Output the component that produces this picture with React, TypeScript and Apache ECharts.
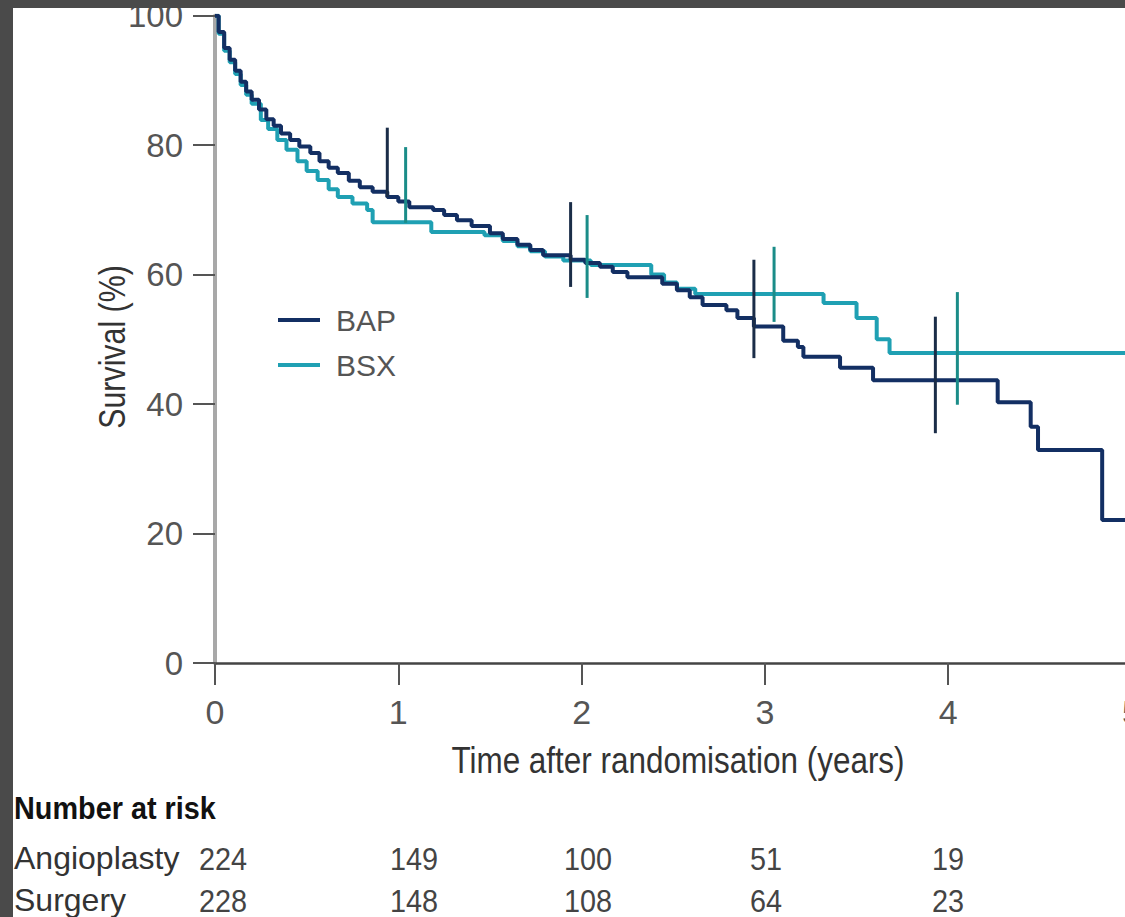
import React, { useEffect, useRef } from "react";
import * as echarts from "echarts";

// ---- data ----
const seriesNames = ["BAP", "BSX"];

const bapTimes = [0, 0.02, 0.05, 0.08, 0.11, 0.14, 0.17, 0.2, 0.24, 0.28, 0.32, 0.36, 0.41, 0.46, 0.52, 0.57, 0.62, 0.67, 0.73, 0.79, 0.86, 0.94, 1.0, 1.06, 1.19, 1.25, 1.32, 1.4, 1.5, 1.57, 1.65, 1.72, 1.79, 1.94, 2.02, 2.1, 2.17, 2.25, 2.44, 2.52, 2.59, 2.66, 2.79, 2.85, 2.94, 3.1, 3.18, 3.21, 3.41, 3.59, 4.27, 4.45, 4.49, 4.84, 5.0];
const bapSurv = [100, 97.5, 95.0, 93.2, 91.5, 89.8, 88.3, 87.0, 85.5, 84.0, 83.0, 81.8, 80.8, 79.8, 78.8, 77.5, 76.5, 75.7, 74.5, 73.5, 72.8, 72.0, 71.3, 70.4, 70.0, 69.2, 68.4, 67.5, 66.4, 65.5, 64.6, 63.8, 63.0, 62.3, 61.8, 61.2, 60.4, 59.6, 58.6, 57.6, 56.5, 55.3, 54.5, 53.3, 52.0, 49.8, 48.8, 47.3, 45.6, 43.7, 40.3, 36.5, 32.9, 22.1, 22.1];

const bsxTimes = [0, 0.02, 0.05, 0.08, 0.11, 0.14, 0.17, 0.2, 0.25, 0.29, 0.34, 0.39, 0.45, 0.5, 0.56, 0.62, 0.67, 0.75, 0.83, 0.86, 1.18, 1.47, 1.57, 1.65, 1.72, 1.8, 1.9, 2.05, 2.38, 2.45, 2.52, 2.62, 3.32, 3.5, 3.61, 3.68, 5.0];
const bsxSurv = [100, 97.2, 94.6, 92.8, 91.0, 89.3, 87.8, 86.4, 83.9, 82.5, 80.8, 79.3, 77.5, 76.0, 74.6, 73.2, 72.0, 71.0, 70.0, 68.1, 66.6, 66.1, 65.2, 64.4, 63.6, 62.8, 62.2, 61.5, 60.0, 58.8, 57.8, 57.0, 55.6, 53.3, 50.0, 47.9, 47.9];

// 95% CI bars (time, lower, upper)
const bapCiTimes = [0.94, 1.94, 2.94, 3.93];
const bapCiLow = [72.0, 58.1, 47.1, 35.5];
const bapCiHigh = [82.7, 71.2, 62.3, 53.5];
const bsxCiTimes = [1.04, 2.03, 3.05, 4.05];
const bsxCiLow = [68.0, 56.4, 52.7, 39.9];
const bsxCiHigh = [79.7, 69.2, 64.3, 57.3];

const yTicks = [0, 20, 40, 60, 80, 100];
const xTicks = [0, 1, 2, 3, 4, 5];

const xTitle = "Time after randomisation (years)";
const yTitle = "Survival (%)";
const riskTitle = "Number at risk";
const riskGroups = ["Angioplasty", "Surgery"];
const riskAngioplasty = [224, 149, 100, 51, 19];
const riskSurgery = [228, 148, 108, 64, 23];

// ---- layout (chart coordinates) ----
const riskColumnX = [210, 401, 575, 753, 935];
const riskRowY = [850, 892];

const BAP_COLOR = "#132f63";
const BSX_COLOR = "#1fa0b3";
const BAP_CI_COLOR = "#1b2d48";
const BSX_CI_COLOR = "#1a8c88";
const REG = "'Liberation Sans', Arial, sans-serif";

function zip(a: number[], b: number[]) {
  return a.map((t, i) => [t, b[i]]);
}

function ciSeries(name: string, times: number[], lo: number[], hi: number[], color: string) {
  return {
    type: "custom",
    name,
    z: 4,
    data: times.map((t, i) => [t, lo[i], hi[i]]),
    encode: { x: 0, y: [1, 2] },
    renderItem: (params: any, api: any) => {
      const p1 = api.coord([api.value(0), api.value(1)]);
      const p2 = api.coord([api.value(0), api.value(2)]);
      return {
        type: "line",
        shape: { x1: p1[0], y1: p1[1], x2: p2[0], y2: p2[1] },
        style: { stroke: color, lineWidth: 3 },
      };
    },
  };
}

export default function App() {
  const ref = useRef<HTMLDivElement>(null);
  useEffect(() => {
    if (!ref.current) return;
    const chart = echarts.init(ref.current, undefined, { renderer: "svg" });
    const graphics: any[] = [
      {
        type: "text",
        x: 665,
        y: 752,
        scaleX: 0.85,
        style: { text: xTitle, font: `37px ${REG}`, fill: "#333", textAlign: "center", textVerticalAlign: "middle" },
      },
      {
        type: "text",
        x: 99,
        y: 339,
        rotation: Math.PI / 2,
        scaleX: 0.82,
        style: { text: yTitle, font: `37px ${REG}`, fill: "#333", textAlign: "center", textVerticalAlign: "middle" },
      },
      {
        type: "text",
        x: 1,
        y: 800,
        scaleX: 0.93,
        style: { text: riskTitle, font: `bold 31px ${REG}`, fill: "#111", textVerticalAlign: "middle" },
      },
    ];
    const rows = [riskAngioplasty, riskSurgery];
    riskGroups.forEach((g, r) => {
      graphics.push({
        type: "text",
        x: 1,
        y: riskRowY[r],
        style: { text: g, font: `32px ${REG}`, fill: "#333", textVerticalAlign: "middle" },
      });
      rows[r].forEach((v, c) => {
        graphics.push({
          type: "text",
          x: riskColumnX[c],
          y: riskRowY[r],
          scaleX: 0.9,
          style: { text: String(v), font: `32px ${REG}`, fill: "#444", textAlign: "center", textVerticalAlign: "middle" },
        });
      });
    });

    chart.setOption({
      animation: false,
      backgroundColor: "#ffffff",
      grid: { left: 202, top: 7.7, width: 916.5, height: 647.3, containLabel: false, outerBoundsMode: "none" },
      legend: {
        data: seriesNames,
        orient: "vertical",
        left: 260,
        top: 292,
        icon: "rect",
        itemWidth: 42,
        itemHeight: 4,
        itemGap: 15,
        textStyle: { fontSize: 30, fontFamily: REG, color: "#555", lineHeight: 30, padding: [0, 0, 0, 11] },
      },
      xAxis: {
        type: "value",
        min: xTicks[0],
        max: xTicks[xTicks.length - 1],
        interval: 1,
        axisLine: { lineStyle: { color: "#444", width: 2.5 } },
        axisTick: { length: 22, lineStyle: { color: "#555", width: 2 } },
        axisLabel: { fontSize: 34, fontFamily: REG, color: "#555", margin: 32 },
        splitLine: { show: false },
      },
      yAxis: {
        type: "value",
        min: yTicks[0],
        max: yTicks[yTicks.length - 1],
        interval: 20,
        axisLine: { show: true, lineStyle: { color: "#a8a8a8", width: 4 } },
        axisTick: { show: true, length: 22, lineStyle: { color: "#555", width: 2 } },
        axisLabel: { fontSize: 33, fontFamily: REG, color: "#555", margin: 32 },
        splitLine: { show: false },
      },
      series: [
        {
          type: "line",
          name: "BSX",
          step: "end",
          showSymbol: false,
          data: zip(bsxTimes, bsxSurv),
          lineStyle: { color: BSX_COLOR, width: 4 },
          itemStyle: { color: BSX_COLOR },
          z: 2,
        },
        {
          type: "line",
          name: "BAP",
          step: "end",
          showSymbol: false,
          data: zip(bapTimes, bapSurv),
          lineStyle: { color: BAP_COLOR, width: 4 },
          itemStyle: { color: BAP_COLOR },
          z: 3,
        },
        ciSeries("BAP CI", bapCiTimes, bapCiLow, bapCiHigh, BAP_CI_COLOR),
        ciSeries("BSX CI", bsxCiTimes, bsxCiLow, bsxCiHigh, BSX_CI_COLOR),
      ],
      graphic: graphics,
    });
    return () => chart.dispose();
  }, []);

  return (
    <div style={{ position: "fixed", left: 0, top: 0, width: 1125, height: 917, background: "#4a4a4a", overflow: "hidden" }}>
      <div ref={ref} style={{ position: "absolute", left: 13, top: 8, width: 1160, height: 909, background: "#fff" }} />
    </div>
  );
}
